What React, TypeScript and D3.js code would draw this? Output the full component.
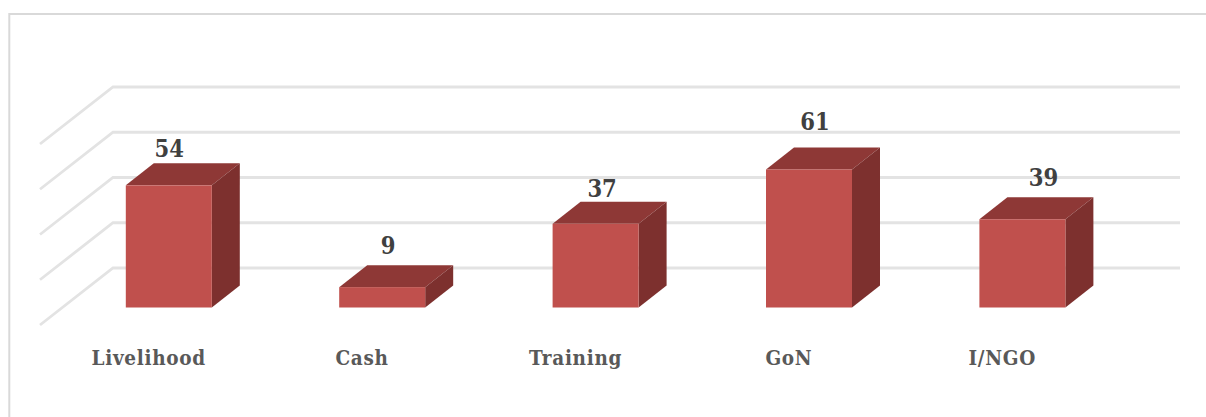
import React from "react";
import * as d3 from "d3";

// Program counts by category, rendered as a 3-D column chart.
const categories = ["Livelihood", "Cash", "Training", "GoN", "I/NGO"];
const seriesValues = [54, 9, 37, 61, 39];
const gridValues = [0, 20, 40, 60, 80];

const WIDTH = 1206;
const HEIGHT = 417;
const FONT = "'DejaVu Serif Condensed', 'DejaVu Serif', serif";

// Floor plane: front edge and how far the back wall is shifted from it.
const FLOOR_LEFT = 40;
const FLOOR_RIGHT = 1107;
const FLOOR_FRONT_Y = 325;
const WALL_DX = 73;
const WALL_DY = -57;
const BAR_WIDTH = 86;
const BAR_DX = 28;
const BAR_DY = -22;

// Hand-placed data labels: offset from the centre of each column's top back edge.
const labelShift = [
  { dx: 0.5, dy: -6 },
  { dx: 6, dy: -11 },
  { dx: 6.5, dy: -5 },
  { dx: 6, dy: -17 },
  { dx: 21, dy: -11 },
];

const xBand = d3.scaleBand<string>().domain(categories).range([FLOOR_LEFT, FLOOR_RIGHT]);
const height3d = d3.scaleLinear().domain([0, 80]).range([0, 181]);

const pts = (p: [number, number][]) => p.map((c) => c.join(",")).join(" ");

export default function App() {
  const baseX = (c: string) =>
    (xBand(c) as number) + xBand.bandwidth() / 2 + (WALL_DX - BAR_DX) / 2 - BAR_WIDTH / 2 - 0.4;
  const baseY = FLOOR_FRONT_Y + (WALL_DY - BAR_DY) / 2;
  return (
    <svg
      width={WIDTH}
      height={HEIGHT}
      viewBox={`0 0 ${WIDTH} ${HEIGHT}`}
      style={{ position: "fixed", left: 0, top: 0, display: "block", background: "#fff" }}
    >
      <path d={`M9.3,${HEIGHT} V14 H${WIDTH}`} fill="none" stroke="#d9d9d9" strokeWidth={2} />
      {gridValues.map((v) => {
        const y = FLOOR_FRONT_Y - height3d(v);
        return (
          <polyline
            key={v}
            points={pts([
              [FLOOR_LEFT, y],
              [FLOOR_LEFT + WALL_DX, y + WALL_DY],
              [FLOOR_RIGHT + WALL_DX, y + WALL_DY],
            ])}
            fill="none"
            stroke="#e3e3e3"
            strokeWidth={2.8}
          />
        );
      })}
      {categories.map((c, i) => {
        const x0 = baseX(c);
        const x1 = x0 + BAR_WIDTH;
        const y0 = baseY;
        const y1 = baseY - height3d(seriesValues[i]);
        return (
          <g key={c}>
            <polygon
              points={pts([
                [x0, y1],
                [x0 + BAR_DX, y1 + BAR_DY],
                [x1 + BAR_DX, y1 + BAR_DY],
                [x1, y1],
              ])}
              fill="#8e3836"
            />
            <polygon
              points={pts([
                [x1, y1],
                [x1 + BAR_DX, y1 + BAR_DY],
                [x1 + BAR_DX, y0 + BAR_DY],
                [x1, y0],
              ])}
              fill="#7d302e"
            />
            <rect x={x0} y={y1} width={BAR_WIDTH} height={y0 - y1} fill="#c0504d" />
            <text
              x={x0 + BAR_WIDTH / 2 + labelShift[i].dx}
              y={y1 + BAR_DY + labelShift[i].dy}
              textAnchor="middle"
              fontFamily={FONT}
              fontWeight={700}
              fontSize={23.5}
              fill="#404040"
            >
              {seriesValues[i]}
            </text>
            <text
              x={(xBand(c) as number) + xBand.bandwidth() / 2 + 2}
              y={365}
              textAnchor="middle"
              fontFamily={FONT}
              fontWeight={700}
              fontSize={20.5}
              letterSpacing={0.7}
              fill="#595959"
            >
              {c}
            </text>
          </g>
        );
      })}
    </svg>
  );
}
